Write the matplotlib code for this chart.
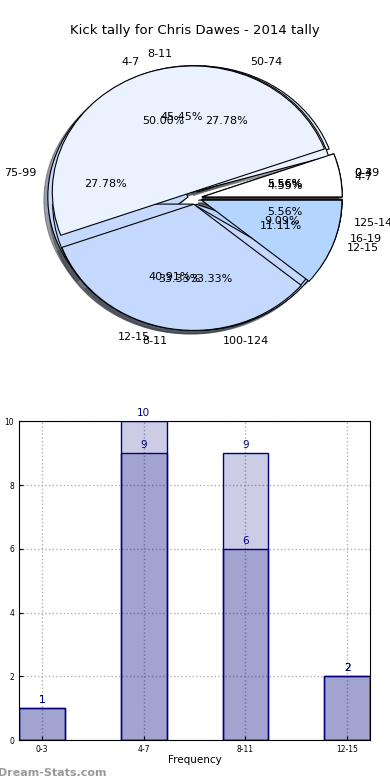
import numpy as np
import matplotlib
matplotlib.use("Agg")
import matplotlib.pyplot as plt

# three overlaid pies
dist_labels = ["0-49", "50-74", "75-99", "100-124", "125-149"]
dist_counts = [1, 5, 5, 6, 1]
tally_labels = ["4-7", "8-11", "12-15", "16-19"]
tally_counts = [1, 10, 9, 2]
kick_labels = ["0-3", "4-7", "8-11", "12-15"]
kick_counts = [1, 9, 6, 2]

# bar chart
bar_cats = ["0-3", "4-7", "8-11", "12-15"]
bar_back = [1, 10, 9, 2]
bar_front = [1, 9, 6, 2]

pie_colors = ["#ffffff", "#eaf1ff", "#c5d8fd", "#b3d5ff", "#d6e6ff"]

fig = plt.figure(figsize=(3.9, 7.8), dpi=100)
fig.text(0.5, 0.961, "Kick tally for Chris Dawes - 2014 tally",
         ha="center", va="center", fontsize=9.5)

ax1 = fig.add_axes([0.0, 0.5536, 1.0, 0.385])
for counts, labels in [(dist_counts, dist_labels),
                       (tally_counts, tally_labels),
                       (kick_counts, kick_labels)]:
    ax1.pie(counts, labels=labels, colors=pie_colors[:len(counts)],
            explode=[0.05] * len(counts), autopct="%1.2f%%", shadow=True,
            wedgeprops=dict(edgecolor="black", linewidth=0.8),
            textprops=dict(fontsize=8))
ax1.set_aspect("auto")
ax1.set_xlim(-1.39, 1.39)
ax1.set_ylim(-1.19, 1.19)

ax2 = fig.add_axes([0.049, 0.051, 0.9, 0.409])
x = np.arange(len(bar_cats))
w = 0.45
fc = (0.0, 0.0, 0.5, 0.2)
ax2.bar(x, bar_back, w, color=fc, edgecolor="navy", linewidth=1, zorder=2)
ax2.bar(x, bar_front, w, color=fc, edgecolor="navy", linewidth=1, zorder=2)
for xi, v in zip(x, bar_back):
    ax2.text(xi, v + 0.1, str(v), ha="center", va="bottom", color="navy", fontsize=7.5)
for xi, v in zip(x, bar_front):
    ax2.text(xi, v + 0.1, str(v), ha="center", va="bottom", color="navy", fontsize=7.5)
ax2.set_xlim(-0.225, 3.225)
ax2.set_ylim(0, 10)
ax2.set_xticks(x)
ax2.set_xticklabels(bar_cats, fontsize=5.5)
ax2.set_yticks(range(0, 11, 2))
ax2.tick_params(axis="y", labelsize=5.5, direction="in", length=3)
ax2.tick_params(axis="x", direction="in", length=3)
ax2.grid(True, linestyle=":", color="#b0b0b0", linewidth=1, zorder=0)
ax2.set_axisbelow(True)
ax2.set_xlabel("Frequency", fontsize=7.5, labelpad=1)
ax2.set_ylabel("Data Insert Here", fontsize=7.5, labelpad=8)

fig.text(-0.005, 0.003, "Dream-Stats.com", color="#999999", fontsize=8,
         fontweight="bold", ha="left", va="bottom")

fig.savefig("out.png", dpi=100)
